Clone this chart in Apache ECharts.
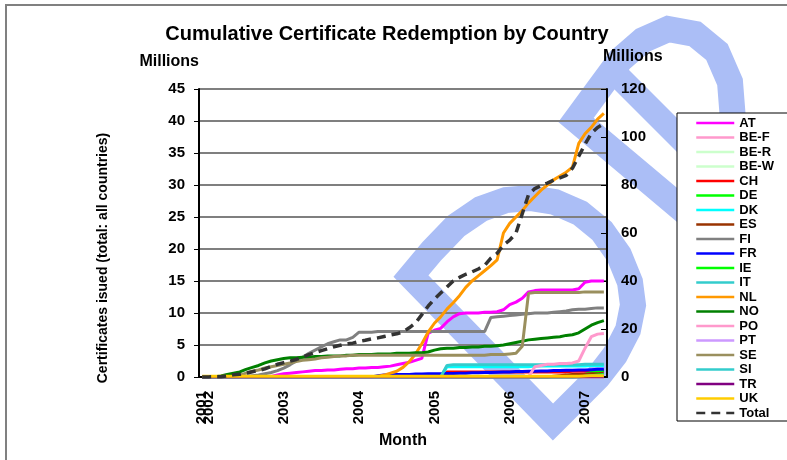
<!DOCTYPE html>
<html>
<head>
<meta charset="utf-8">
<script src="https://cdn.jsdelivr.net/npm/echarts@6/dist/echarts.min.js"></script>
<style>
  html, body { margin: 0; padding: 0; background: #fff; }
  #chart { width: 787px; height: 460px; }
</style>
</head>
<body>
<div id="chart"></div>
<script>
// months, Dec 2001 .. Apr 2007
const months = [
  '2001-12',
  '2002-01', '2002-02', '2002-03', '2002-04', '2002-05', '2002-06', '2002-07', '2002-08', '2002-09', '2002-10', '2002-11', '2002-12',
  '2003-01', '2003-02', '2003-03', '2003-04', '2003-05', '2003-06', '2003-07', '2003-08', '2003-09', '2003-10', '2003-11', '2003-12',
  '2004-01', '2004-02', '2004-03', '2004-04', '2004-05', '2004-06', '2004-07', '2004-08', '2004-09', '2004-10', '2004-11', '2004-12',
  '2005-01', '2005-02', '2005-03', '2005-04', '2005-05', '2005-06', '2005-07', '2005-08', '2005-09', '2005-10', '2005-11', '2005-12',
  '2006-01', '2006-02', '2006-03', '2006-04', '2006-05', '2006-06', '2006-07', '2006-08', '2006-09', '2006-10', '2006-11', '2006-12',
  '2007-01', '2007-02', '2007-03', '2007-04'
]

// millions of certificates (left axis), one row per year
const AT = [0,
  0, 0, 0, 0, 0, 0, 0, 0, 0, 0, 0.1, 0.3,
  0.5, 0.6, 0.7, 0.8, 0.9, 1.0, 1.0, 1.1, 1.1, 1.2, 1.3, 1.3,
  1.4, 1.4, 1.5, 1.5, 1.6, 1.7, 1.9, 2.1, 2.3, 2.6, 2.9, 6.8,
  7.3, 7.6, 8.6, 9.4, 9.9, 10.0, 10.0, 10.0, 10.1, 10.1, 10.2, 10.5,
  11.3, 11.7, 12.3, 13.3, 13.5, 13.6, 13.6, 13.6, 13.6, 13.6, 13.6, 13.8,
  14.8, 15.0, 15.0, 15.0]
const BE_F = [0,
  0, 0, 0, 0, 0, 0, 0, 0, 0, 0, 0, 0,
  0, 0, 0, 0, 0, 0, 0, 0, 0, 0, 0, 0,
  0, 0, 0, 0, 0, 0, 0, 0, 0, 0, 0, 0,
  0, 0, 0, 0, 0, 0, 0, 0, 0, 0, 0, 0,
  0, 0, 0, 0, 0, 0, 0, 0, 0, 0, 0, 0,
  0, 0, 0, 0]
const BE_R = [0,
  0, 0, 0, 0, 0, 0, 0, 0, 0, 0, 0, 0,
  0, 0, 0, 0, 0, 0, 0, 0, 0, 0, 0, 0,
  0, 0, 0, 0, 0, 0, 0, 0, 0, 0, 0, 0,
  0, 0, 0, 0, 0, 0, 0, 0, 0, 0, 0, 0,
  0, 0, 0, 0, 0, 0, 0, 0, 0, 0, 0, 0,
  0, 0, 0, 0]
const BE_W = [0,
  0, 0, 0, 0, 0, 0, 0, 0, 0, 0, 0, 0,
  0, 0, 0, 0, 0, 0, 0, 0, 0, 0, 0, 0,
  0, 0, 0, 0, 0, 0, 0, 0, 0, 0, 0, 0,
  0, 0, 0, 0, 0, 0, 0, 0, 0, 0, 0, 0,
  0, 0, 0, 0, 0, 0, 0, 0, 0, 0, 0, 0,
  0, 0, 0, 0]
const CH = [0,
  0, 0, 0, 0, 0, 0, 0, 0, 0, 0, 0, 0,
  0, 0, 0, 0, 0, 0, 0, 0, 0, 0, 0, 0,
  0, 0, 0, 0, 0, 0, 0, 0, 0, 0, 0, 0,
  0, 0, 0.8, 0.8, 0.8, 0.8, 0.8, 0.8, 0.8, 0.8, 0.8, 0.8,
  0.8, 0.8, 0.8, 0.8, 0.8, 0.8, 0.8, 0.8, 0.8, 0.8, 0.9, 0.9,
  0.9, 0.9, 1.0, 1.0]
const DE = [0,
  0, 0, 0, 0, 0, 0, 0, 0, 0, 0, 0, 0,
  0, 0, 0, 0, 0, 0, 0, 0, 0, 0, 0, 0,
  0, 0, 0, 0, 0, 0, 0, 0, 0, 0, 0, 0,
  0, 0, 0, 0, 0, 0, 0, 0, 0, 0, 0, 0,
  0, 0, 0, 0, 0, 0, 0, 0, 0, 0, 0, 0.1,
  0.4, 0.7, 0.9, 1.0]
const DK = [0,
  0, 0, 0, 0, 0, 0, 0, 0, 0, 0, 0, 0,
  0, 0, 0, 0, 0, 0, 0, 0, 0, 0, 0, 0,
  0, 0, 0, 0, 0, 0, 0, 0, 0, 0, 0, 0,
  0, 0, 1.6, 1.6, 1.6, 1.6, 1.6, 1.6, 1.6, 1.6, 1.6, 1.6,
  1.6, 1.6, 1.6, 1.6, 1.7, 1.7, 1.7, 1.7, 1.7, 1.7, 1.7, 1.7,
  1.7, 1.8, 1.8, 1.8]
const ES = [0,
  0, 0, 0, 0, 0, 0, 0, 0, 0, 0, 0, 0,
  0, 0, 0, 0, 0, 0, 0, 0, 0, 0, 0, 0,
  0, 0, 0, 0, 0, 0, 0, 0, 0, 0, 0, 0,
  0, 0, 0, 0, 0, 0, 0, 0, 0, 0, 0, 0,
  0, 0, 0, 0, 0, 0, 0, 0.1, 0.2, 0.3, 0.4, 0.4,
  0.4, 0.5, 0.5, 0.6]
const FI = [0,
  0, 0, 0, 0, 0, 0, 0.1, 0.2, 0.3, 0.5, 0.7, 1.0,
  1.4, 1.9, 2.5, 3.1, 3.7, 4.2, 4.7, 5.2, 5.5, 5.8, 5.8, 6.2,
  7.0, 7.0, 7.0, 7.1, 7.1, 7.1, 7.1, 7.1, 7.1, 7.1, 7.1, 7.1,
  7.1, 7.1, 7.1, 7.1, 7.1, 7.1, 7.1, 7.1, 7.1, 9.3, 9.4, 9.5,
  9.6, 9.7, 9.8, 9.9, 10.0, 10.0, 10.0, 10.1, 10.2, 10.3, 10.5, 10.6,
  10.6, 10.7, 10.8, 10.8]
const FR = [0,
  0, 0, 0, 0, 0, 0, 0, 0, 0, 0, 0, 0,
  0, 0, 0, 0, 0, 0, 0, 0, 0, 0, 0, 0,
  0, 0, 0, 0.2, 0.3, 0.35, 0.4, 0.4, 0.4, 0.45, 0.45, 0.5,
  0.5, 0.5, 0.55, 0.55, 0.6, 0.6, 0.65, 0.65, 0.7, 0.7, 0.75, 0.8,
  0.8, 0.85, 0.85, 0.9, 0.9, 0.95, 0.95, 1.0, 1.0, 1.05, 1.05, 1.1,
  1.1, 1.15, 1.2, 1.2]
const IE = [0,
  0, 0, 0, 0, 0, 0, 0, 0, 0, 0, 0, 0,
  0, 0, 0, 0, 0, 0, 0, 0, 0, 0, 0, 0,
  0, 0, 0, 0, 0, 0, 0, 0, 0, 0, 0, 0,
  0, 0, 0, 0, 0, 0, 0, 0, 0, 0, 0, 0,
  0, 0, 0, 0, 0, 0, 0, 0, 0, 0, 0, 0,
  0.1, 0.2, 0.3, 0.4]
const IT = [0,
  0, 0, 0, 0, 0, 0, 0, 0, 0, 0, 0, 0,
  0, 0, 0, 0, 0, 0, 0, 0, 0, 0, 0, 0,
  0, 0, 0, 0, 0, 0, 0, 0, 0, 0, 0, 0,
  0, 0, 1.8, 1.9, 1.9, 1.9, 1.9, 1.9, 1.9, 1.9, 1.9, 1.9,
  1.9, 1.9, 1.9, 1.9, 1.9, 1.9, 1.9, 1.9, 1.9, 1.9, 1.9, 1.9,
  2.0, 2.0, 2.0, 2.0]
const NL = [0,
  0, 0, 0, 0, 0, 0, 0, 0, 0, 0, 0, 0,
  0, 0, 0, 0, 0, 0, 0, 0, 0, 0, 0, 0,
  0, 0, 0, 0.1, 0.3, 0.6, 0.9, 1.5, 2.4, 3.6, 5.2, 7.0,
  8.4, 9.4, 10.6, 11.6, 12.7, 14.0, 15.0, 15.8, 16.6, 17.4, 18.3, 22.5,
  24.0, 25.0, 26.0, 27.2, 28.2, 29.2, 30.0, 30.8, 31.4, 32.0, 32.8, 36.5,
  38.0, 39.0, 40.3, 41.2]
const NO = [0,
  0, 0.05, 0.15, 0.4, 0.6, 0.8, 1.2, 1.5, 1.8, 2.2, 2.5, 2.7,
  2.9, 3.0, 3.0, 3.1, 3.1, 3.2, 3.2, 3.3, 3.3, 3.3, 3.4, 3.4,
  3.5, 3.5, 3.5, 3.6, 3.6, 3.6, 3.7, 3.7, 3.7, 3.8, 3.8, 3.9,
  4.2, 4.4, 4.5, 4.5, 4.6, 4.6, 4.7, 4.7, 4.8, 4.8, 4.9, 5.0,
  5.2, 5.4, 5.6, 5.8, 5.9, 6.0, 6.1, 6.2, 6.3, 6.5, 6.6, 6.9,
  7.5, 8.1, 8.5, 8.8]
const PO = [0,
  0, 0, 0, 0, 0, 0, 0, 0, 0, 0, 0, 0,
  0, 0, 0, 0, 0, 0, 0, 0, 0, 0, 0, 0,
  0, 0, 0, 0, 0, 0, 0, 0, 0, 0, 0, 0,
  0, 0, 0, 0, 0, 0, 0, 0, 0, 0, 0, 0,
  0, 0, 0, 0, 1.6, 1.8, 2.0, 2.0, 2.1, 2.1, 2.2, 2.5,
  4.5, 6.3, 6.7, 6.8]
const PT = [0,
  0, 0, 0, 0, 0, 0, 0, 0, 0, 0, 0, 0,
  0, 0, 0, 0, 0, 0, 0, 0, 0, 0, 0, 0,
  0, 0, 0, 0, 0, 0, 0, 0, 0, 0, 0, 0,
  0, 0, 0, 0, 0, 0, 0, 0, 0, 0, 0, 0,
  0, 0, 0, 0, 0, 0, 0, 0, 0, 0, 0, 0,
  0, 0, 0, 0]
const SE = [0,
  0, 0, 0, 0, 0, 0.3, 0.6, 0.9, 1.1, 1.4, 1.6, 1.8,
  2.0, 2.2, 2.4, 2.6, 2.7, 2.8, 3.0, 3.1, 3.2, 3.3, 3.3, 3.4,
  3.4, 3.4, 3.4, 3.4, 3.4, 3.4, 3.4, 3.4, 3.4, 3.4, 3.4, 3.4,
  3.4, 3.4, 3.4, 3.4, 3.4, 3.4, 3.4, 3.4, 3.4, 3.5, 3.5, 3.5,
  3.6, 3.7, 4.8, 13.1, 13.2, 13.2, 13.2, 13.2, 13.2, 13.2, 13.2, 13.2,
  13.3, 13.3, 13.3, 13.3]
const SI = [0,
  0, 0, 0, 0, 0, 0, 0, 0, 0, 0, 0, 0,
  0, 0, 0, 0, 0, 0, 0, 0, 0, 0, 0, 0,
  0, 0, 0, 0, 0, 0, 0, 0, 0, 0, 0, 0,
  0, 0, 0, 0, 0, 0, 0, 0, 0, 0, 0, 0,
  0, 0, 0, 0, 0, 0, 0, 0, 0, 0, 0, 0,
  0.1, 0.2, 0.2, 0.3]
const TR = [0,
  0, 0, 0, 0, 0, 0, 0, 0, 0, 0, 0, 0,
  0, 0, 0, 0, 0, 0, 0, 0, 0, 0, 0, 0,
  0, 0, 0, 0, 0, 0, 0, 0, 0, 0, 0, 0,
  0, 0, 0, 0, 0, 0, 0, 0, 0, 0, 0, 0,
  0, 0, 0, 0, 0, 0, 0, 0, 0, 0, 0, 0,
  0, 0, 0, 0]
const UK = [0.1,
  0.1, 0.1, 0.1, 0.1, 0.1, 0.1, 0.1, 0.1, 0.1, 0.1, 0.1, 0.1,
  0.1, 0.1, 0.1, 0.1, 0.1, 0.1, 0.1, 0.1, 0.1, 0.1, 0.1, 0.1,
  0.1, 0.1, 0.1, 0.1, 0.1, 0.1, 0.1, 0.1, 0.1, 0.1, 0.1, 0.1,
  0.1, 0.1, 0.1, 0.1, 0.1, 0.1, 0.1, 0.1, 0.1, 0.1, 0.1, 0.1,
  0.1, 0.1, 0.1, 0.1, 0.1, 0.1, 0.1, 0.1, 0.1, 0.1, 0.1, 0.1,
  0.15, 0.2, 0.2, 0.2]
// all countries together (right axis)
const TOTAL = [0,
  0.05, 0.1, 0.1, 0.5, 0.9, 1.1, 1.6, 2.2, 2.7, 3.4, 4.4, 5.3,
  6.0, 6.6, 7.3, 8.3, 9.3, 10.2, 11.0, 11.8, 12.6, 13.2, 13.8, 14.1,
  14.8, 15.3, 15.9, 16.3, 16.9, 17.5, 18.0, 18.8, 20.5, 22.5, 26.0, 29.5,
  32.5, 35.0, 37.5, 40.0, 41.5, 42.8, 43.8, 45.0, 46.5, 49.5, 51.5, 55.0,
  57.0, 60.0, 68.0, 76.0, 78.5, 79.8, 80.8, 82.0, 83.0, 84.0, 87.0, 92.0,
  97.0, 101.5, 104.0, 105.5]

const countries = [
  ['AT', AT, '#ff00ff'],
  ['BE-F', BE_F, '#ff99cc'],
  ['BE-R', BE_R, '#ccffcc'],
  ['BE-W', BE_W, '#ccffcc'],
  ['CH', CH, '#ff0000'],
  ['DE', DE, '#00ff00'],
  ['DK', DK, '#00ffff'],
  ['ES', ES, '#993300'],
  ['FI', FI, '#808080'],
  ['FR', FR, '#0000ff'],
  ['IE', IE, '#00ff00'],
  ['IT', IT, '#33cccc'],
  ['NL', NL, '#ff9900'],
  ['NO', NO, '#008000'],
  ['PO', PO, '#ff99cc'],
  ['PT', PT, '#cc99ff'],
  ['SE', SE, '#9a8f5e'],
  ['SI', SI, '#33cccc'],
  ['TR', TR, '#800080'],
  ['UK', UK, '#ffcc00']
]

const FONT = '"Liberation Sans", Arial, sans-serif'
const WM = '#abbef6' // watermark blue

const series = countries.map(([name, data, color]) => ({
  name: name,
  type: 'line',
  data: data,
  yAxisIndex: 0,
  symbol: 'none',
  legendIcon: 'none',
  color: color,
  lineStyle: { width: 3, color: color }
}))
series.push({
  name: 'Total',
  type: 'line',
  data: TOTAL,
  yAxisIndex: 1,
  symbol: 'none',
  legendIcon: 'none',
  color: '#333333',
  lineStyle: { width: 3.5, color: '#333333', type: [9, 6] }
})

const yearLabel = {
  rotate: 90,
  margin: 14,
  fontSize: 15,
  fontWeight: 'bold',
  color: '#000',
  hideOverlap: false,
  showMinLabel: true,
  formatter: v => v.slice(0, 4)
}

const chart = echarts.init(document.getElementById('chart'))
chart.setOption({
  animation: false,
  backgroundColor: '#fff',
  textStyle: { fontFamily: FONT },
  title: {
    text: 'Cumulative Certificate Redemption by Country',
    left: 387,
    top: 24,
    padding: 0,
    textAlign: 'center',
    textStyle: { fontSize: 20, fontWeight: 'bold', color: '#000', fontFamily: FONT }
  },
  legend: {
    orient: 'vertical',
    left: 677,
    top: 113,
    padding: [3, 40, 1, 18],
    itemWidth: 38,
    itemHeight: 14,
    itemGap: 0.5,
    backgroundColor: '#fff',
    borderColor: '#000',
    borderWidth: 1,
    borderRadius: 0,
    itemStyle: { opacity: 0 },
    lineStyle: { width: 2.5 },
    textStyle: { fontSize: 13, fontWeight: 'bold', color: '#000', lineHeight: 14, fontFamily: FONT },
    data: countries.map(c => c[0]).concat(['Total'])
  },
  grid: { left: 199, right: 180, top: 89, bottom: 83 },
  xAxis: [{
    type: 'category',
    data: months,
    name: 'Month',
    nameLocation: 'middle',
    nameGap: 55,
    nameTextStyle: { fontSize: 16, fontWeight: 'bold', color: '#000' },
    axisLine: { lineStyle: { color: '#000', width: 2 } },
    axisTick: { interval: 0, length: 5, lineStyle: { color: '#000', width: 1 } },
    axisLabel: Object.assign({}, yearLabel, {
      interval: (i, v) => v.endsWith('-01')
    })
  }, {
    // second copy of the month axis, only to print the first month's year
    type: 'category',
    data: months,
    position: 'bottom',
    axisLine: { show: false },
    axisTick: { show: false },
    splitLine: { show: false },
    axisLabel: Object.assign({}, yearLabel, {
      interval: i => i === 0
    })
  }],
  yAxis: [{
    type: 'value',
    min: 0,
    max: 45,
    interval: 5,
    name: 'Millions',
    nameLocation: 'end',
    nameGap: 27,
    nameTextStyle: { fontSize: 16, fontWeight: 'bold', color: '#000', align: 'right', verticalAlign: 'middle' },
    axisLine: { show: true, lineStyle: { color: '#000', width: 2 } },
    axisTick: { show: true, length: 5, lineStyle: { color: '#000' } },
    axisLabel: { margin: 14, fontSize: 15, fontWeight: 'bold', color: '#000' },
    splitLine: { lineStyle: { color: '#7f7f7f', width: 2 } }
  }, {
    type: 'value',
    min: 0,
    max: 120,
    interval: 20,
    position: 'right',
    name: 'Millions',
    nameLocation: 'end',
    nameGap: 32,
    nameTextStyle: { fontSize: 16, fontWeight: 'bold', color: '#000', align: 'left', verticalAlign: 'middle', padding: [0, 0, 0, -4] },
    axisLine: { show: true, lineStyle: { color: '#000', width: 2 } },
    axisTick: { show: true, inside: true, length: 6, lineStyle: { color: '#000' } },
    axisLabel: { margin: 14, fontSize: 15, fontWeight: 'bold', color: '#000' },
    splitLine: { show: false }
  }],
  graphic: [
    {
      type: 'rect', z: -30, silent: true,
      shape: { x: 6, y: 5, width: 820, height: 500 },
      style: { fill: 'none', stroke: '#808080', lineWidth: 2 }
    },
    {
      type: 'polygon', z: -20, silent: true,
      shape: { points: [[553, 422], [411, 276], [432, 251], [456, 226], [481, 209], [506, 200], [530, 198], [555, 202],
        [580, 213], [602, 231], [619, 255], [630, 282], [633, 305], [628, 330], [615, 355], [598, 377], [575, 400]] },
      style: { fill: 'none', stroke: WM, lineWidth: 26, lineJoin: 'miter' }
    },
    {
      type: 'polygon', z: -20, silent: true,
      shape: { points: [[576, 120], [598, 90], [620, 60], [643, 40], [668, 29], [695, 34], [717, 52], [730, 82],
        [733, 120], [725, 160], [708, 195], [695, 220]] },
      style: { fill: 'none', stroke: WM, lineWidth: 26, lineJoin: 'miter' }
    },
    {
      type: 'line', z: -20, silent: true,
      shape: { x1: 608, y1: 66, x2: 700, y2: 158 },
      style: { stroke: WM, lineWidth: 24 }
    },
    {
      type: 'text', silent: true,
      x: 103, y: 258, rotation: Math.PI / 2,
      style: {
        text: 'Certificates isued (total: all countries)',
        font: 'bold 14px "Liberation Sans", Arial, sans-serif',
        textAlign: 'center', textVerticalAlign: 'middle', fill: '#000'
      }
    }
  ],
  series: series
})
</script>
</body>
</html>
